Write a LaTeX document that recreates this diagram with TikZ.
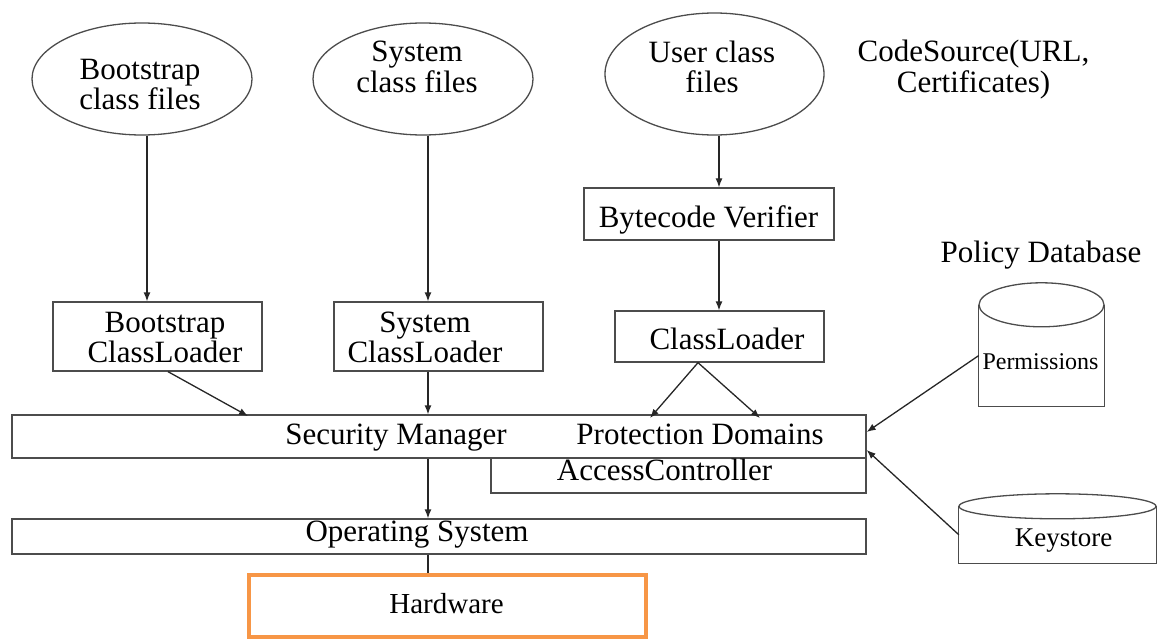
\documentclass[tikz,border=0pt]{standalone}
\usepackage{fontspec}
\setmainfont{Liberation Serif}
\usetikzlibrary{shapes.geometric,arrows.meta,calc}
\definecolor{hworange}{HTML}{F79646}
\begin{document}
\begin{tikzpicture}[x=1pt,y=-1pt,
  shapeline/.style={draw=black!70,line width=1.3pt},
  ell/.style={shapeline,ellipse,inner sep=0pt},
  boxn/.style={shapeline,rectangle,inner sep=0pt},
  bodyn/.style={rectangle,inner sep=0pt},
  txt/.style={inner sep=0pt,align=center,font=\fontsize{31pt}{30.5pt}\selectfont},
  conn/.style={draw=black!85,line width=1.3pt,-{Latex[length=9pt,width=7pt]}},
  plain/.style={draw=black!85,line width=1.3pt}]
\useasboundingbox (0,0) rectangle (1158,639);
% column coordinates
\coordinate (bcol) at (147,0);
\coordinate (scol) at (428,0);
\coordinate (ucol) at (719,0);
% ellipses
\node[ell,minimum width=220pt,minimum height=112pt] (be) at (142,79) {};
\node[ell,minimum width=220pt,minimum height=112pt] (se) at (423,79) {};
\node[ell,minimum width=219pt,minimum height=122pt] (ue) at (714.5,74) {};
\node[txt] (bet) at (140,84.5) {Bootstrap\\class files};
\node[txt] (set) at (417,67) {System\\class files};
\node[txt] (uet) at (712,67) {User class\\files};
\node[txt] (cs) at (973.5,69.5) {CodeSource(URL,\\Certificates)};
% boxes
\node[boxn,minimum width=250pt,minimum height=52pt] (bv) at (709,214) {};
\node[txt] (bvt) at (708.5,220) {Bytecode Verifier};
\node[boxn,minimum width=209pt,minimum height=69pt] (bcl) at (157.5,336.5) {};
\node[txt] (bclt) at (165,337.5) {Bootstrap\\ClassLoader};
\node[boxn,minimum width=209pt,minimum height=69pt] (scl) at (438.5,336.5) {};
\node[txt] (sclt) at (425,337.5) {System\\ClassLoader};
\node[boxn,minimum width=209pt,minimum height=51pt] (cl) at (719.5,336.5) {};
\node[txt] (clt) at (727,338.5) {ClassLoader};
\node[txt] (pdb) at (1041,255) {Policy Database};
\node[boxn,minimum width=854pt,minimum height=43pt] (sm) at (439,436.5) {};
\node[txt] (smt) at (396,438) {Security Manager};
\node[txt] (pdt) at (700,434.5) {Protection Domains};
\node[boxn,minimum width=375pt,minimum height=35pt] (ac) at (678.5,475.5) {};
\node[txt] (act) at (664.5,469.5) {AccessController};
\node[boxn,minimum width=854pt,minimum height=35pt] (os) at (439,536.5) {};
\node[txt] (ost) at (417,534.5) {Operating System};
\node[rectangle,draw=hworange,line width=4pt,inner sep=0pt,minimum width=397pt,minimum height=62pt] (hw) at (447.5,606) {};
\node[txt,font=\fontsize{29pt}{29pt}\selectfont] (hwt) at (446.5,603.4) {Hardware};
% cylinders
\node[bodyn,minimum width=125pt,minimum height=101pt] (perm) at (1041.5,355.5) {};
\draw[shapeline] (perm.north west) -- (perm.south west) -- (perm.south east) -- (perm.north east);
\draw[shapeline] (perm.north) ellipse [x radius=62.5pt,y radius=22pt];
\node[txt,font=\fontsize{24pt}{24pt}\selectfont] (permt) at (1040.5,361.8) {Permissions};
\node[bodyn,minimum width=197pt,minimum height=56.5pt] (ks) at (1057.5,534.75) {};
\draw[shapeline] (ks.north west) -- (ks.south west) -- (ks.south east) -- (ks.north east);
\draw[shapeline] (ks.north) ellipse [x radius=98.5pt,y radius=12.5pt];
\node[txt,font=\fontsize{27pt}{27pt}\selectfont] (kst) at (1063.5,541) {Keystore};
% connector end points
\coordinate (smb) at (248,416);
\coordinate (pdl) at (650,418);
\coordinate (pdr) at (760,418);
% connectors
\draw[conn] (bcol |- be.south) -- (bcol |- bcl.north);
\draw[conn] (scol |- se.south) -- (scol |- scl.north);
\draw[conn] (ucol |- ue.south) -- (ucol |- bv.north);
\draw[conn] (ucol |- bv.south) -- (ucol |- cl.north);
\draw[conn] ([xshift=10.5pt]bcl.south) -- (smb);
\draw[conn] (scol |- scl.south) -- (scol |- sm.north);
\draw[conn] ([xshift=-21.5pt]cl.south) -- (pdl);
\draw[conn] ([xshift=-21.5pt]cl.south) -- (pdr);
\draw[conn] (perm.west) -- ([yshift=4.5pt]sm.east);
\draw[conn] (ks.west) -- ([yshift=-13.5pt]sm.east);
\draw[conn] (scol |- sm.south) -- (scol |- os.north);
\draw[plain] (scol |- os.south) -- (scol |- hw.north);
\end{tikzpicture}
\end{document}
